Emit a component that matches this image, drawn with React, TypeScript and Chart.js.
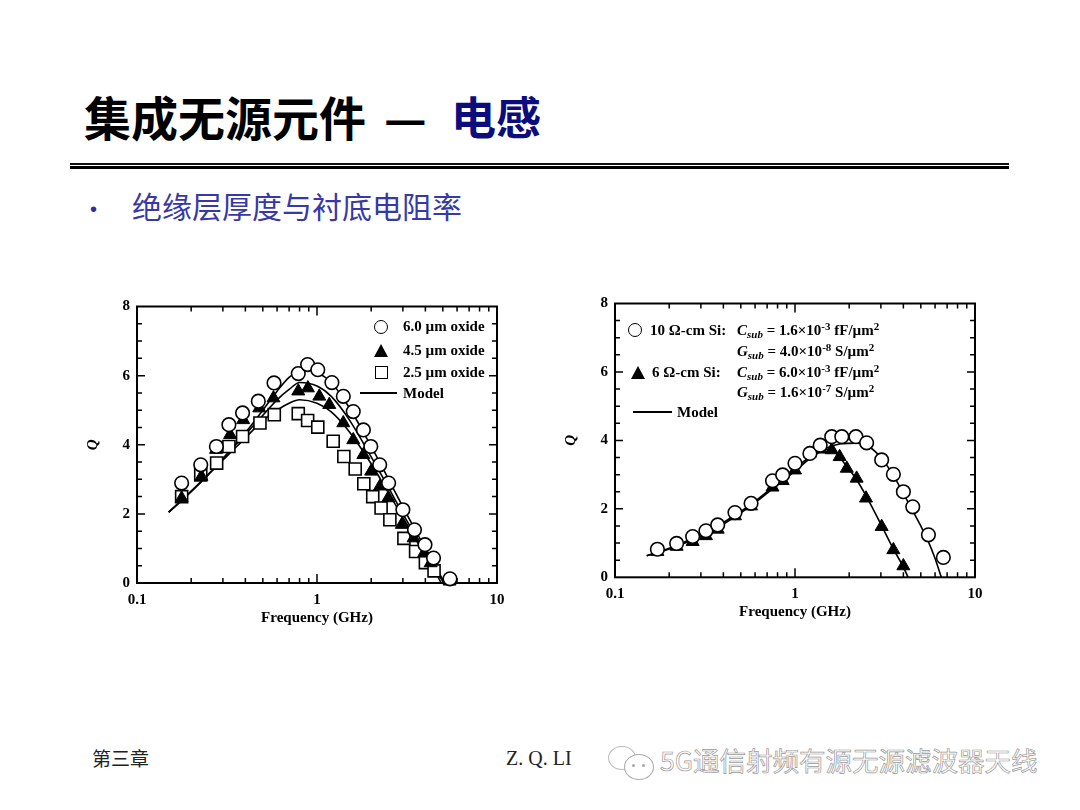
import React, { useEffect, useRef } from "react";
import { Chart, registerables } from "chart.js";

Chart.register(...registerables);

// ---------- Left chart: oxide thickness ----------
const oxide60Freq = [0.177, 0.226, 0.276, 0.324, 0.386, 0.472, 0.577, 0.787, 0.887, 1.01, 1.21, 1.4, 1.59, 1.81, 1.99, 2.23, 2.5, 3.0, 3.48, 3.98, 4.44, 5.48];
const oxide60Q = [2.89, 3.42, 3.95, 4.58, 4.92, 5.26, 5.79, 6.06, 6.32, 6.17, 5.8, 5.4, 4.96, 4.43, 3.95, 3.42, 2.89, 2.12, 1.54, 1.11, 0.72, 0.12];

const oxide45Freq = [0.177, 0.228, 0.275, 0.329, 0.389, 0.478, 0.573, 0.787, 0.89, 1.03, 1.17, 1.4, 1.59, 1.81, 2.0, 2.24, 2.49, 2.96, 3.44, 3.94, 4.28, 5.45];
const oxide45Q = [2.45, 3.08, 3.86, 4.29, 4.72, 5.06, 5.35, 5.55, 5.64, 5.4, 5.16, 4.63, 4.14, 3.71, 3.23, 2.8, 2.46, 1.69, 1.3, 0.87, 0.58, 0.05];

const oxide25Freq = [0.177, 0.226, 0.277, 0.324, 0.386, 0.482, 0.579, 0.787, 0.887, 1.01, 1.23, 1.41, 1.63, 1.82, 2.04, 2.27, 2.54, 3.04, 3.53, 4.0, 4.47];
const oxide25Q = [2.5, 3.13, 3.47, 3.95, 4.24, 4.63, 4.87, 4.9, 4.7, 4.51, 4.1, 3.66, 3.3, 2.87, 2.5, 2.17, 1.83, 1.29, 0.91, 0.59, 0.35];

const model60Freq = [0.15, 0.2, 0.25, 0.3, 0.4, 0.5, 0.6, 0.7, 0.85, 1.0, 1.2, 1.5, 2.0, 2.5, 3.0, 3.5, 4.0, 4.5, 5.0, 5.15];
const model60Q = [2.05, 2.65, 3.15, 3.6, 4.35, 5.0, 5.55, 5.95, 6.2, 6.1, 5.8, 5.1, 3.95, 3.0, 2.2, 1.55, 1.0, 0.5, 0.1, 0];

const model45Freq = [0.15, 0.2, 0.25, 0.3, 0.4, 0.5, 0.6, 0.7, 0.8, 1.0, 1.2, 1.5, 2.0, 2.5, 3.0, 3.5, 4.0, 4.5, 5.0, 5.05];
const model45Q = [2.05, 2.65, 3.15, 3.6, 4.3, 4.85, 5.3, 5.6, 5.8, 5.7, 5.4, 4.75, 3.65, 2.75, 2.0, 1.4, 0.85, 0.4, 0.05, 0];

const model25Freq = [0.15, 0.2, 0.25, 0.3, 0.4, 0.5, 0.6, 0.7, 0.8, 1.0, 1.2, 1.5, 2.0, 2.5, 3.0, 3.5, 4.0, 4.5, 4.9];
const model25Q = [2.05, 2.65, 3.15, 3.55, 4.2, 4.7, 5.0, 5.2, 5.3, 5.2, 4.95, 4.4, 3.45, 2.6, 1.9, 1.3, 0.8, 0.35, 0];

// ---------- Right chart: substrate resistivity ----------
const si10Freq = [0.172, 0.22, 0.27, 0.32, 0.372, 0.464, 0.57, 0.75, 0.854, 1.0, 1.21, 1.38, 1.6, 1.82, 2.18, 2.5, 3.03, 3.52, 4.0, 4.51, 5.51, 6.67];
const si10Q = [0.82, 0.99, 1.19, 1.36, 1.53, 1.89, 2.16, 2.82, 2.99, 3.33, 3.62, 3.86, 4.11, 4.11, 4.11, 3.93, 3.43, 3.01, 2.5, 2.06, 1.24, 0.58];

const si6Freq = [0.172, 0.22, 0.27, 0.32, 0.372, 0.464, 0.57, 0.75, 0.854, 1.0, 1.21, 1.38, 1.6, 1.77, 1.94, 2.2, 2.48, 3.03, 3.52, 4.0];
const si6Q = [0.75, 0.9, 1.04, 1.21, 1.4, 1.79, 2.08, 2.63, 2.82, 3.13, 3.62, 3.74, 3.72, 3.52, 3.18, 2.89, 2.31, 1.48, 0.8, 0.33];

const model10Freq = [0.15, 0.2, 0.3, 0.4, 0.5, 0.6, 0.8, 1.0, 1.2, 1.5, 1.8, 2.2, 2.6, 3.0, 3.5, 4.0, 4.5, 5.0, 5.5, 6.0, 6.5];
const model10Q = [0.63, 0.85, 1.25, 1.6, 1.93, 2.22, 2.75, 3.18, 3.5, 3.78, 3.9, 3.92, 3.8, 3.5, 3.0, 2.45, 1.95, 1.5, 1.05, 0.55, 0];

const model6Freq = [0.15, 0.2, 0.3, 0.4, 0.5, 0.6, 0.8, 1.0, 1.2, 1.4, 1.55, 1.7, 1.9, 2.2, 2.5, 3.0, 3.5, 4.0, 4.25];
const model6Q = [0.63, 0.83, 1.2, 1.55, 1.88, 2.18, 2.7, 3.1, 3.45, 3.68, 3.74, 3.62, 3.3, 2.85, 2.35, 1.55, 0.85, 0.3, 0];

// ---------- Axis ticks ----------
const xTickLabels = [0.1, 1, 10];
const yTickLabels = [0, 2, 4, 6, 8];
const xMinorTicks = [0.2, 0.3, 0.4, 0.5, 0.6, 0.7, 0.8, 0.9, 2, 3, 4, 5, 6, 7, 8, 9];
const xMajorTicks = [1];
const yMinorTicks = [0.5, 1, 1.5, 2.5, 3, 3.5, 4.5, 5, 5.5, 6.5, 7, 7.5];
const yMajorTicks = [2, 4, 6];

const SERIF = "'Liberation Serif', 'Times New Roman', serif";
const CJK = "'Noto Sans CJK SC', 'Noto Sans', sans-serif";

const pts = (xs: number[], ys: number[]) => xs.map((x, i) => ({ x, y: ys[i] }));

const circleSet = (data: any) => ({
  data,
  showLine: false,
  pointStyle: "circle",
  pointRadius: 6.8,
  pointBackgroundColor: "#ffffff",
  pointBorderColor: "#000000",
  pointBorderWidth: 1.6,
  clip: false,
});
const triangleSet = (data: any) => ({
  data,
  showLine: false,
  pointStyle: "triangle",
  pointRadius: 7.5,
  pointBackgroundColor: "#000000",
  pointBorderColor: "#000000",
  pointBorderWidth: 1,
  clip: false,
});
const squareSet = (data: any) => ({
  data,
  showLine: false,
  pointStyle: "rect",
  pointRadius: 8.5,
  pointBackgroundColor: "#ffffff",
  pointBorderColor: "#000000",
  pointBorderWidth: 1.6,
  clip: false,
});
const modelSet = (data: any) => ({
  data,
  showLine: true,
  pointRadius: 0,
  borderColor: "#000000",
  borderWidth: 1.6,
  cubicInterpolationMode: "monotone",
  fill: false,
  clip: false,
});

const framePlugin = {
  id: "frameTicks",
  beforeDatasetsDraw(chart: any) {
    const { ctx, chartArea, scales } = chart;
    const { left, right, top, bottom } = chartArea;
    const x = scales.x;
    const y = scales.y;
    ctx.save();
    ctx.strokeStyle = "#000";
    ctx.lineWidth = 1.5;
    const vt = (v: number, len: number) => {
      const px = x.getPixelForValue(v);
      ctx.beginPath();
      ctx.moveTo(px, bottom);
      ctx.lineTo(px, bottom - len);
      ctx.moveTo(px, top);
      ctx.lineTo(px, top + len);
      ctx.stroke();
    };
    const ht = (v: number, len: number) => {
      const py = y.getPixelForValue(v);
      ctx.beginPath();
      ctx.moveTo(left, py);
      ctx.lineTo(left + len, py);
      ctx.moveTo(right, py);
      ctx.lineTo(right - len, py);
      ctx.stroke();
    };
    xMinorTicks.forEach((v) => vt(v, 5));
    xMajorTicks.forEach((v) => vt(v, 9));
    yMinorTicks.forEach((v) => ht(v, 5));
    yMajorTicks.forEach((v) => ht(v, 8));
    ctx.lineWidth = 2;
    ctx.strokeRect(left, top, right - left, bottom - top);
    ctx.restore();
  },
};

function QChart({ left, top, padBottom, datasets }: { left: number; top: number; padBottom: number; datasets: any[] }) {
  const ref = useRef<HTMLCanvasElement>(null);
  useEffect(() => {
    const chart = new Chart(ref.current as HTMLCanvasElement, {
      type: "line",
      data: { datasets },
      options: {
        responsive: false,
        animation: false,
        devicePixelRatio: 1,
        layout: { padding: { left: 0, top: 16.5, right: 23, bottom: padBottom } },
        plugins: { legend: { display: false }, tooltip: { enabled: false } },
        scales: {
          x: {
            type: "logarithmic",
            min: 0.1,
            max: 10,
            grid: { display: false, drawTicks: false },
            border: { display: false },
            afterBuildTicks: (s: any) => {
              s.ticks = xTickLabels.map((v) => ({ value: v }));
            },
            afterFit: (s: any) => {
              s.height = 45;
            },
            ticks: {
              autoSkip: false,
              maxRotation: 0,
              padding: 8,
              color: "#000",
              font: { family: SERIF, size: 15, weight: "bold" },
              callback: (v: any) => String(v),
            },
            title: {
              display: true,
              text: "Frequency (GHz)",
              color: "#000",
              padding: { top: 0, bottom: 1 },
              font: { family: SERIF, size: 15, weight: "bold" },
            },
          },
          y: {
            type: "linear",
            min: 0,
            max: 8,
            grid: { display: false, drawTicks: false },
            border: { display: false },
            afterBuildTicks: (s: any) => {
              s.ticks = yTickLabels.map((v) => ({ value: v }));
            },
            afterFit: (s: any) => {
              s.width = 57;
            },
            ticks: {
              padding: 7,
              color: "#000",
              font: { family: SERIF, size: 15, weight: "bold" },
            },
            title: {
              display: true,
              text: "Q",
              color: "#000",
              padding: { top: 4, bottom: 0 },
              font: { family: SERIF, size: 15, weight: "bold", style: "italic" },
            },
          },
        },
      } as any,
      plugins: [framePlugin],
    });
    return () => chart.destroy();
  }, []);
  return (
    <canvas
      ref={ref}
      width={440}
      height={345}
      style={{ position: "absolute", left, top, width: 440, height: 345 }}
    />
  );
}

const abs = (l: number, t: number): React.CSSProperties => ({ position: "absolute", left: l, top: t });

const Circle = ({ cx, cy }: { cx: number; cy: number }) => (
  <div style={{ ...abs(cx - 7, cy - 7), width: 14, height: 14, boxSizing: "border-box", border: "1.7px solid #000", borderRadius: "50%", background: "#fff" }} />
);
const Tri = ({ cx, cy }: { cx: number; cy: number }) => (
  <div style={{ ...abs(cx - 7.5, cy - 6.5), width: 0, height: 0, borderLeft: "7.5px solid transparent", borderRight: "7.5px solid transparent", borderBottom: "13px solid #000" }} />
);
const Sq = ({ cx, cy }: { cx: number; cy: number }) => (
  <div style={{ ...abs(cx - 6.5, cy - 6.5), width: 13, height: 13, boxSizing: "border-box", border: "1.7px solid #000", background: "#fff" }} />
);
const LineMark = ({ x1, x2, y }: { x1: number; x2: number; y: number }) => (
  <div style={{ ...abs(x1, y - 1), width: x2 - x1, height: 2, background: "#000" }} />
);
const LText = ({ x, cy, children }: { x: number; cy: number; children: React.ReactNode }) => (
  <div style={{ ...abs(x, cy - 9), height: 18, lineHeight: "18px", fontFamily: SERIF, fontWeight: "bold", fontSize: 15, color: "#000", whiteSpace: "nowrap" }}>
    {children}
  </div>
);
const supS: React.CSSProperties = { fontSize: 11, verticalAlign: "5px", lineHeight: 0 };
const subS: React.CSSProperties = { fontSize: 11, verticalAlign: "-3px", lineHeight: 0, fontStyle: "italic" };

const Formula = ({ sym, val, exp, unit }: { sym: string; val: string; exp: string; unit: string }) => (
  <>
    <i>{sym}</i>
    <span style={subS}>sub</span> = {val}×10<span style={supS}>{exp}</span> {unit}/µm<span style={supS}>2</span>
  </>
);

export default function App() {
  const leftSets = [
    circleSet(pts(oxide60Freq, oxide60Q)),
    triangleSet(pts(oxide45Freq, oxide45Q)),
    squareSet(pts(oxide25Freq, oxide25Q)),
    modelSet(pts(model60Freq, model60Q)),
    modelSet(pts(model45Freq, model45Q)),
    modelSet(pts(model25Freq, model25Q)),
  ];
  const rightSets = [
    circleSet(pts(si10Freq, si10Q)),
    triangleSet(pts(si6Freq, si6Q)),
    modelSet(pts(model10Freq, model10Q)),
    modelSet(pts(model6Freq, model6Q)),
  ];
  const titleStyle: React.CSSProperties = { fontFamily: CJK, fontWeight: 700, lineHeight: "46px", whiteSpace: "nowrap" };
  return (
    <div style={{ position: "absolute", left: 0, top: 0, width: 1080, height: 810, background: "#fff", overflow: "hidden" }}>
      {/* Title */}
      <div style={{ ...abs(84, 93), ...titleStyle, fontSize: 47, color: "#000" }}>集成无源元件</div>
      <div style={{ ...abs(384, 93), ...titleStyle, fontSize: 47, color: "#000" }}>—</div>
      <div style={{ ...abs(451, 93), ...titleStyle, fontSize: 45, color: "#0c0c7e" }}>电感</div>
      {/* double rule */}
      <div style={{ ...abs(70, 162.5), width: 939, height: 2, background: "#111" }} />
      <div style={{ ...abs(70, 166), width: 939, height: 3.3, background: "#000" }} />
      {/* bullet */}
      <div style={{ ...abs(90, 199), fontFamily: "'Liberation Sans', Arial, sans-serif", fontSize: 20, lineHeight: "20px", color: "#2e2e9e" }}>•</div>
      <div style={{ ...abs(132, 190), fontFamily: CJK, fontSize: 30, lineHeight: "30px", color: "#3838a8", whiteSpace: "nowrap" }}>
        绝缘层厚度与衬底电阻率
      </div>

      {/* Charts */}
      <QChart left={80} top={290} padBottom={7} datasets={leftSets} />
      <QChart left={558} top={287} padBottom={9.7} datasets={rightSets} />

      {/* Left legend */}
      <Circle cx={381} cy={326.5} />
      <LText x={403} cy={326}>6.0 µm oxide</LText>
      <Tri cx={381} cy={350.5} />
      <LText x={403} cy={350}>4.5 µm oxide</LText>
      <Sq cx={381} cy={372.5} />
      <LText x={403} cy={372}>2.5 µm oxide</LText>
      <LineMark x1={360} x2={397} y={393} />
      <LText x={403} cy={393}>Model</LText>

      {/* Right legend */}
      <Circle cx={635} cy={330} />
      <LText x={650} cy={330}>10 Ω-cm Si:</LText>
      <LText x={737} cy={330}><Formula sym="C" val="1.6" exp="-3" unit="fF" /></LText>
      <LText x={737} cy={351}><Formula sym="G" val="4.0" exp="-8" unit="S" /></LText>
      <Tri cx={638} cy={372.5} />
      <LText x={652} cy={372}>6 Ω-cm Si:</LText>
      <LText x={737} cy={372}><Formula sym="C" val="6.0" exp="-3" unit="fF" /></LText>
      <LText x={737} cy={392}><Formula sym="G" val="1.6" exp="-7" unit="S" /></LText>
      <LineMark x1={633} x2={672} y={412} />
      <LText x={677} cy={412}>Model</LText>

      {/* Footer */}
      <div style={{ ...abs(92, 747), fontFamily: CJK, fontSize: 19, lineHeight: "22px", color: "#222" }}>第三章</div>
      <div style={{ ...abs(506, 747), fontFamily: SERIF, fontSize: 20, lineHeight: "22px", color: "#222" }}>Z. Q. LI</div>
      {/* watermark icon */}
      <div style={{ ...abs(608, 746), width: 26, height: 22, border: "1.2px solid #bbb", borderRadius: "50%" }} />
      <div style={{ ...abs(624, 754), width: 28, height: 24, border: "1.2px solid #aaa", borderRadius: "50%", background: "#fff" }} />
      <div style={{ ...abs(632, 764), width: 3, height: 3, borderRadius: "50%", background: "#aaa" }} />
      <div style={{ ...abs(642, 764), width: 3, height: 3, borderRadius: "50%", background: "#aaa" }} />
      <div
        style={{
          ...abs(660, 745),
          fontFamily: CJK,
          fontSize: 26.5,
          lineHeight: "30px",
          color: "#ffffff",
          WebkitTextStroke: "0.7px #9a9a9a",
          whiteSpace: "nowrap",
        }}
      >
        5G通信射频有源无源滤波器天线
      </div>
    </div>
  );
}
